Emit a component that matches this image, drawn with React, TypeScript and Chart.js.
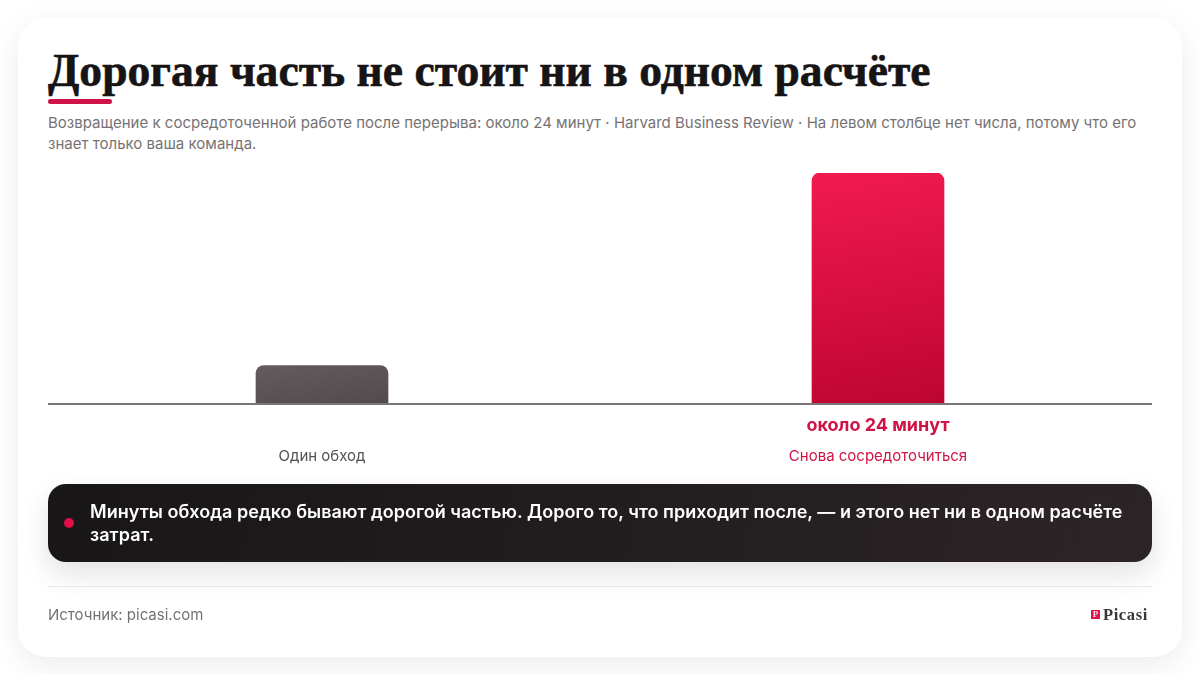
import React, { useEffect, useRef } from 'react';
import { Chart, registerables, type Plugin } from 'chart.js';

Chart.register(...registerables);

const categories = ['Один обход', 'Снова сосредоточиться'];
const minutes = [4, 24];
const valueLabels = ['', 'около 24 минут'];
const labelColors = ['#555052', '#d01346'];

const title = 'Дорогая часть не стоит ни в одном расчёте';
const subtitle =
  'Возвращение к сосредоточенной работе после перерыва: около 24 минут · Harvard Business Review · На левом столбце нет числа, потому что его знает только ваша команда.';
const takeaway =
  'Минуты обхода редко бывают дорогой частью. Дорого то, что приходит после, — и этого нет ни в одном расчёте затрат.';
const source = 'Источник: picasi.com';

const SANS = 'Inter, sans-serif';

// подпись значения под столбцом и базовая линия
const underBarPlugin: Plugin<'bar'> = {
  id: 'underBar',
  afterDatasetsDraw(chart) {
    const { ctx, scales } = chart;
    const base = scales.y.getPixelForValue(0);
    ctx.save();
    ctx.strokeStyle = '#7a7577';
    ctx.lineWidth = 2;
    ctx.beginPath();
    ctx.moveTo(4, base);
    ctx.lineTo(chart.width - 4, base);
    ctx.stroke();
    ctx.font = `700 18px ${SANS}`;
    ctx.fillStyle = labelColors[1];
    ctx.textAlign = 'center';
    ctx.textBaseline = 'middle';
    valueLabels.forEach((text, i) => {
      if (text) ctx.fillText(text, scales.x.getPixelForValue(i), base + 22);
    });
    ctx.restore();
  },
};

// как css linear-gradient(170deg, ...)
const barFill = (context: any) => {
  const { chart, dataIndex } = context;
  const { chartArea, scales } = chart;
  if (!chartArea) return labelColors[dataIndex];
  const top = scales.y.getPixelForValue(minutes[dataIndex]);
  const bottom = scales.y.getPixelForValue(0);
  const cx = scales.x.getPixelForValue(dataIndex);
  const cy = (top + bottom) / 2;
  const len = 132 * 0.174 + (bottom - top) * 0.985;
  const dx = (0.174 * len) / 2;
  const dy = (0.985 * len) / 2;
  const grad = chart.ctx.createLinearGradient(cx - dx, cy - dy, cx + dx, cy + dy);
  if (dataIndex === 0) {
    grad.addColorStop(0, '#635b5d');
    grad.addColorStop(1, '#524a4c');
  } else {
    grad.addColorStop(0, '#f21a50');
    grad.addColorStop(1, '#bd0530');
  }
  return grad;
};

const BarChart: React.FC = () => {
  const canvasRef = useRef<HTMLCanvasElement>(null);

  useEffect(() => {
    if (!canvasRef.current) return;
    const chart = new Chart(canvasRef.current, {
      type: 'bar',
      data: {
        labels: categories,
        datasets: [
          {
            data: minutes,
            backgroundColor: barFill,
            barThickness: 132,
            borderRadius: { topLeft: 8, topRight: 8, bottomLeft: 0, bottomRight: 0 },
            borderSkipped: false,
          },
        ],
      },
      options: {
        animation: false,
        responsive: false,
        maintainAspectRatio: false,
        layout: { padding: 0 },
        plugins: { legend: { display: false }, tooltip: { enabled: false } },
        scales: {
          x: {
            grid: { display: false, drawTicks: false },
            border: { display: false },
            ticks: {
              padding: 43,
              maxRotation: 0,
              autoSkip: false,
              color: (c: any) => labelColors[c.index],
              font: { size: 15, family: SANS },
            },
          },
          y: {
            display: false,
            min: 0,
            max: 24,
          },
        },
      },
      plugins: [underBarPlugin],
    });
    return () => chart.destroy();
  }, []);

  return (
    <canvas
      ref={canvasRef}
      width={1112}
      height={335}
      style={{ position: 'absolute', left: 44, top: 173, width: 1112, height: 335 }}
    />
  );
};

export default function App() {
  useEffect(() => {
    document.body.style.margin = '0';
    document.body.style.background = '#ffffff';
  }, []);

  return (
    <div style={{ position: 'relative', width: 1200, height: 675, overflow: 'hidden', fontFamily: SANS }}>
      {/* Card */}
      <div
        style={{
          position: 'absolute',
          left: 18,
          top: 18,
          width: 1164,
          height: 639,
          borderRadius: 28,
          background: '#fff',
          boxShadow: '0 8px 30px rgba(20,16,18,0.08)',
        }}
      />
      <div
        style={{
          position: 'absolute',
          left: 48,
          top: 44,
          fontFamily: '"Liberation Serif", serif',
          fontWeight: 700,
          fontSize: 45.6,
          lineHeight: '54px',
          color: '#161415',
          whiteSpace: 'nowrap',
          WebkitTextStroke: '0.6px #161415',
        }}
      >
        {title}
      </div>
      <div style={{ position: 'absolute', left: 48, top: 99, width: 64, height: 5, borderRadius: 3, background: '#d01346' }} />

      <BarChart />

      <div
        style={{
          position: 'absolute',
          left: 48,
          top: 112,
          width: 1104,
          fontSize: 15,
          letterSpacing: 0.015,
          lineHeight: '21px',
          color: '#767274',
        }}
      >
        {subtitle}
      </div>

      {/* Takeaway */}
      <div
        style={{
          position: 'absolute',
          left: 48,
          top: 484,
          width: 1104,
          height: 78,
          borderRadius: 18,
          background:
            'radial-gradient(circle at 88% 100%, rgba(120,40,60,0.05), rgba(120,40,60,0) 20%), linear-gradient(100deg, #191618 0%, #2a2427 100%)',
          boxShadow: '0 12px 28px rgba(20,16,18,0.12)',
        }}
      />
      <div style={{ position: 'absolute', left: 64, top: 518, width: 10, height: 10, borderRadius: 5, background: '#e20f47' }} />
      <div
        style={{
          position: 'absolute',
          left: 90,
          top: 500,
          width: 1050,
          fontSize: 18,
          fontWeight: 600,
          letterSpacing: 0.03,
          lineHeight: '23.4px',
          color: '#fff',
        }}
      >
        {takeaway}
      </div>

      {/* Footer */}
      <div style={{ position: 'absolute', left: 48, top: 586, width: 1104, height: 1, background: '#e8e6e7' }} />
      <div style={{ position: 'absolute', left: 48, top: 605, fontSize: 15, lineHeight: '20px', color: '#767274' }}>{source}</div>
      <div
        style={{
          position: 'absolute',
          left: 1091,
          top: 610,
          width: 9,
          height: 9,
          background: '#e0134a',
          color: '#fbdde5',
          fontFamily: '"Liberation Serif", serif',
          fontWeight: 700,
          fontSize: 9,
          lineHeight: '9px',
          textAlign: 'center',
        }}
      >
        P
      </div>
      <div
        style={{
          position: 'absolute',
          left: 1103,
          top: 605,
          fontFamily: '"Liberation Serif", serif',
          fontWeight: 700,
          fontSize: 16.5,
          lineHeight: '19px',
          letterSpacing: 0.6,
          color: '#3a3537',
        }}
      >
        Picasi
      </div>
    </div>
  );
}
